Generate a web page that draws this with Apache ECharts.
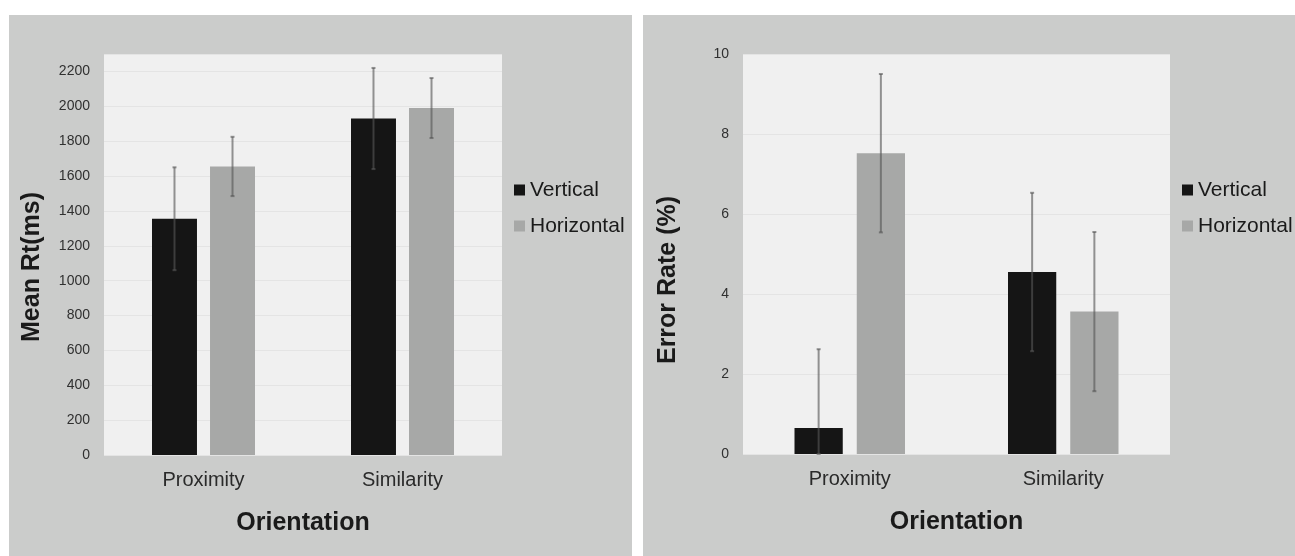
<!DOCTYPE html>
<html>
<head>
<meta charset="utf-8">
<title>Orientation: Mean RT and Error Rate</title>
<script src="https://cdn.jsdelivr.net/npm/echarts@6/dist/echarts.min.js"></script>
<style>
  html, body { margin: 0; padding: 0; background: #ffffff; }
  #chart { width: 1295px; height: 556px; }
</style>
</head>
<body>
<div id="chart"></div>
<script>
// Conditions on the x axis
const categories = ['Proximity', 'Similarity'];
const seriesNames = ['Vertical', 'Horizontal'];

// Mean reaction time (ms) and its error bars
const rtVertical = [1355, 1930];
const rtVerticalErr = [295, 290];
const rtHorizontal = [1655, 1990];
const rtHorizontalErr = [170, 172];

// Error rate (%) and its error bars
const erVertical = [0.65, 4.55];
const erVerticalErr = [1.97, 1.98];
const erHorizontal = [7.52, 3.56];
const erHorizontalErr = [1.98, 1.99];

// Y axis ticks
const rtTicks = { min: 0, max: 2300, interval: 200 };
const erTicks = { min: 0, max: 10, interval: 2 };

const FONT = "'Liberation Sans', Arial, Helvetica, sans-serif";
const PANEL = '#cbcccb';
const PLOT_BG = '#f0f0f0';
const DARK = '#151515';
const GRAY = '#a7a8a7';

// bar geometry, shared by the bars and their error bars
const BAR_W = 0.226;          // fraction of the category band
const BAR_GAP = 0.29;         // fraction of the bar width
const OFFSET = (BAR_W + BAR_W * BAR_GAP) / 2;

function errorBars(offsetSign) {
  return function (params, api) {
    const xi = api.value(0);
    const mean = api.value(1);
    const err = api.value(2);
    const band = api.size([1, 0])[0];
    const x = api.coord([xi, mean])[0] + offsetSign * OFFSET * band;
    const yHi = api.coord([xi, mean + err])[1];
    const yLo = api.coord([xi, Math.max(0, mean - err)])[1];
    const style = { stroke: 'rgba(85,85,85,0.62)', lineWidth: 2 };
    return {
      type: 'group',
      children: [
        { type: 'line', shape: { x1: x, y1: yHi, x2: x, y2: yLo }, style: style },
        { type: 'line', shape: { x1: x - 2, y1: yHi, x2: x + 2, y2: yHi }, style: style },
        { type: 'line', shape: { x1: x - 2, y1: yLo, x2: x + 2, y2: yLo }, style: style }
      ]
    };
  };
}

function triples(means, errs) {
  return means.map((m, i) => [i, m, errs[i]]);
}

const grids = [
  { left: 104, top: 54, width: 398, height: 401 },
  { left: 743, top: 54, width: 427, height: 400 }
];

function xAxisFor(gridIndex) {
  return {
    type: 'category',
    gridIndex: gridIndex,
    data: categories,
    axisLine: { show: false },
    axisTick: { show: false },
    axisLabel: { color: '#2a2a2a', fontSize: 20, fontFamily: FONT, margin: 15 },
    name: 'Orientation',
    nameLocation: 'middle',
    nameGap: 56,
    nameTextStyle: { color: '#1a1a1a', fontSize: 25, fontWeight: 'bold', fontFamily: FONT }
  };
}

function yAxisFor(gridIndex, ticks) {
  return {
    type: 'value',
    gridIndex: gridIndex,
    min: ticks.min,
    max: ticks.max,
    interval: ticks.interval,
    axisLine: { show: false },
    axisTick: { show: false },
    axisLabel: {
      color: '#303030', fontSize: 14, fontFamily: FONT, margin: 14,
      showMaxLabel: ticks.max % ticks.interval === 0,
      formatter: v => String(v)
    },
    splitLine: { lineStyle: { color: '#e4e4e4', width: 1 } }
  };
}

function barSeries(name, color, data, idx) {
  return {
    name: name,
    type: 'bar',
    xAxisIndex: idx,
    yAxisIndex: idx,
    data: data,
    barWidth: (BAR_W * 100) + '%',
    barGap: (BAR_GAP * 100) + '%',
    itemStyle: { color: color },
    emphasis: { disabled: true }
  };
}

function errSeries(name, means, errs, idx, sign) {
  return {
    name: name,
    type: 'custom',
    xAxisIndex: idx,
    yAxisIndex: idx,
    data: triples(means, errs),
    encode: { x: 0, y: 1 },
    renderItem: errorBars(sign),
    z: 5,
    silent: true
  };
}

function legendAt(left) {
  return {
    data: seriesNames,
    orient: 'vertical',
    left: left,
    top: 174,
    icon: 'rect',
    itemWidth: 11,
    itemHeight: 11,
    itemGap: 14,
    textStyle: { color: '#1a1a1a', fontSize: 21, fontFamily: FONT, lineHeight: 22 }
  };
}

const option = {
  backgroundColor: '#ffffff',
  animation: false,
  color: [DARK, GRAY],
  graphic: [
    { type: 'rect', z: -10, shape: { x: 9, y: 15, width: 623, height: 541 }, style: { fill: PANEL } },
    { type: 'rect', z: -10, shape: { x: 643, y: 15, width: 652, height: 541 }, style: { fill: PANEL } },
    {
      type: 'text', x: 32, y: 267, rotation: Math.PI / 2, z: 10,
      style: { text: 'Mean Rt(ms)', fill: '#1a1a1a', font: 'bold 25px ' + FONT, align: 'center', verticalAlign: 'middle' }
    },
    {
      type: 'text', x: 668, y: 280, rotation: Math.PI / 2, z: 10,
      style: { text: 'Error Rate (%)', fill: '#1a1a1a', font: 'bold 25px ' + FONT, align: 'center', verticalAlign: 'middle' }
    }
  ],
  grid: grids.map(g => Object.assign({ show: true, backgroundColor: PLOT_BG, borderWidth: 0 }, g)),
  xAxis: [xAxisFor(0), xAxisFor(1)],
  yAxis: [yAxisFor(0, rtTicks), yAxisFor(1, erTicks)],
  legend: [legendAt(509), legendAt(1177)],
  series: [
    barSeries('Vertical', DARK, rtVertical, 0),
    barSeries('Horizontal', GRAY, rtHorizontal, 0),
    barSeries('Vertical', DARK, erVertical, 1),
    barSeries('Horizontal', GRAY, erHorizontal, 1),
    errSeries('Vertical', rtVertical, rtVerticalErr, 0, -1),
    errSeries('Horizontal', rtHorizontal, rtHorizontalErr, 0, 1),
    errSeries('Vertical', erVertical, erVerticalErr, 1, -1),
    errSeries('Horizontal', erHorizontal, erHorizontalErr, 1, 1)
  ]
};

const chart = echarts.init(document.getElementById('chart'), null, { renderer: 'canvas' });
chart.setOption(option);
</script>
</body>
</html>
